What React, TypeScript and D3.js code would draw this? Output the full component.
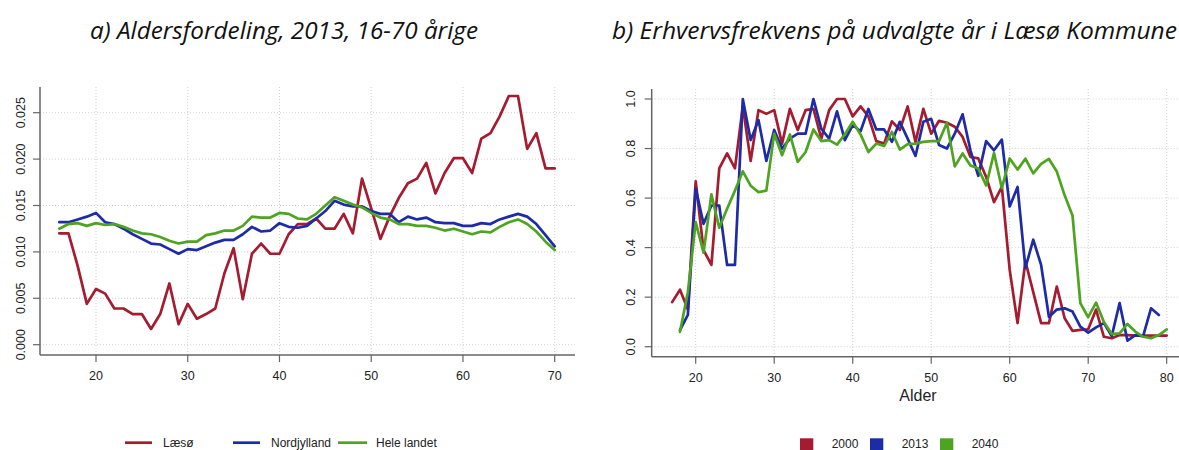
import React from "react";
import * as d3 from "d3";

// Panel a: age distribution 16-70, 2013
const agesA = d3.range(16, 71);
const laesoShare = [
  0.012, 0.012, 0.0085, 0.0044, 0.006, 0.0055, 0.0039, 0.0039, 0.0033, 0.0033,
  0.0017, 0.0033, 0.0066, 0.0022, 0.0044, 0.0028, 0.0033, 0.0039, 0.0077, 0.0104,
  0.0049, 0.0098, 0.0109, 0.0098, 0.0098, 0.0119, 0.013, 0.013, 0.0136, 0.0125,
  0.0125, 0.0141, 0.012, 0.0179, 0.0147, 0.0114, 0.0138, 0.0158, 0.0174, 0.0179,
  0.0196, 0.0163, 0.0185, 0.0201, 0.0201, 0.0185, 0.0222, 0.0228, 0.0246, 0.0268,
  0.0268, 0.0211, 0.0228, 0.019, 0.019,
];
const nordjyllandShare = [
  0.0132, 0.0132, 0.0135, 0.0138, 0.0142, 0.0132, 0.013, 0.0125, 0.0119, 0.0114,
  0.0109, 0.0108, 0.0103, 0.0098, 0.0103, 0.0102, 0.0106, 0.011, 0.0113, 0.0113,
  0.0119, 0.0127, 0.0122, 0.0123, 0.0131, 0.0127, 0.0126, 0.0128, 0.0136, 0.0144,
  0.0155, 0.0151, 0.0149, 0.0149, 0.0144, 0.0141, 0.0141, 0.0132, 0.0138, 0.0135,
  0.0137, 0.0132, 0.0131, 0.0131, 0.0128, 0.0128, 0.0131, 0.013, 0.0135, 0.0138,
  0.0141, 0.0138, 0.013, 0.0118, 0.0106,
];
const heleLandetShare = [
  0.0125, 0.013, 0.0131, 0.0128, 0.0131, 0.0129, 0.013, 0.0127, 0.0123, 0.012,
  0.0119, 0.0116, 0.0112, 0.0109, 0.0111, 0.0111, 0.0118, 0.012, 0.0123, 0.0123,
  0.0128, 0.0138, 0.0137, 0.0137, 0.0142, 0.0141, 0.0136, 0.0135, 0.0141, 0.015,
  0.0159, 0.0155, 0.0151, 0.0148, 0.0142, 0.0137, 0.0135, 0.013, 0.013, 0.0128,
  0.0128, 0.0126, 0.0123, 0.0125, 0.0122, 0.0119, 0.0122, 0.0121, 0.0127, 0.0132,
  0.0135, 0.013, 0.0122, 0.0111, 0.0102,
];
const yTicksA = [0, 0.005, 0.01, 0.015, 0.02, 0.025];
const xTicksA = [20, 30, 40, 50, 60, 70];
const seriesNamesA = ["Læsø", "Nordjylland", "Hele landet"];

// Panel b: employment rate by age, Læsø Kommune
const agesRate2000 = d3.range(17, 81);
const rate2000 = [
  0.18, 0.23, 0.15, 0.668, 0.39, 0.33, 0.72, 0.78, 0.72, 0.97,
  0.75, 0.955, 0.94, 0.955, 0.82, 0.96, 0.875, 0.955, 0.96, 0.84,
  0.955, 1.0, 1.0, 0.93, 0.97, 0.93, 0.83, 0.82, 0.91, 0.875,
  0.97, 0.827, 0.96, 0.86, 0.912, 0.904, 0.888, 0.847, 0.766, 0.76,
  0.685, 0.584, 0.645, 0.31, 0.095, 0.345, 0.22, 0.095, 0.095, 0.243,
  0.115, 0.064, 0.068, 0.07, 0.15, 0.04, 0.034, 0.047, 0.047, 0.045,
  0.045, 0.045, 0.045, 0.045,
];
const agesRate2013 = d3.range(18, 80);
const rate2013 = [
  0.067, 0.128, 0.638, 0.496, 0.57, 0.57, 0.33, 0.33, 1.0, 0.834,
  0.915, 0.75, 0.875, 0.8, 0.84, 0.86, 0.86, 1.0, 0.88, 0.84,
  0.95, 0.834, 0.895, 0.87, 0.96, 0.877, 0.877, 0.827, 0.908, 0.84,
  0.77, 0.908, 0.92, 0.814, 0.8, 0.86, 0.938, 0.793, 0.69, 0.83,
  0.793, 0.836, 0.566, 0.645, 0.318, 0.432, 0.33, 0.12, 0.15, 0.155,
  0.142, 0.081, 0.057, 0.078, 0.095, 0.043, 0.176, 0.024, 0.047, 0.043,
  0.155, 0.128,
];
const agesRate2040 = d3.range(18, 81);
const rate2040 = [
  0.06, 0.22, 0.503, 0.38, 0.615, 0.48, 0.557, 0.63, 0.708, 0.65,
  0.624, 0.63, 0.86, 0.773, 0.857, 0.746, 0.786, 0.877, 0.83, 0.834,
  0.816, 0.857, 0.908, 0.857, 0.786, 0.82, 0.81, 0.867, 0.796, 0.818,
  0.82, 0.827, 0.83, 0.83, 0.904, 0.728, 0.78, 0.732, 0.719, 0.651,
  0.782, 0.64, 0.76, 0.715, 0.759, 0.7, 0.738, 0.758, 0.707, 0.611,
  0.53, 0.176, 0.119, 0.178, 0.1, 0.051, 0.054, 0.092, 0.061, 0.04,
  0.034, 0.047, 0.07,
];
const yTicksB = [0, 0.2, 0.4, 0.6, 0.8, 1.0];
const xTicksB = [20, 30, 40, 50, 60, 70, 80];
const seriesNamesB = ["2000", "2013", "2040"];

const RED = "#a51b30";
const BLUE = "#1d2ca6";
const GREEN = "#4ea420";
const AXIS = "#666666";
const GRID = "#cfcfcf";
const TEXT = "#222222";
const FONT = "'Liberation Sans', Arial, sans-serif";
const TITLE_FONT = "'Open Sans', 'Noto Sans', sans-serif";

type Series = { xs: number[]; ys: number[]; color: string };

function Panel(props: {
  x: d3.ScaleLinear<number, number>;
  y: d3.ScaleLinear<number, number>;
  left: number;
  right: number;
  top: number;
  bottom: number;
  xTicks: number[];
  yTicks: number[];
  yFmt: (v: number) => string;
  series: Series[];
  yLabelX: number;
  xLabelY: number;
}) {
  const { x, y, left, right, top, bottom, xTicks, yTicks, yFmt, series, yLabelX, xLabelY } = props;
  return (
    <g>
      {yTicks.map((t) => (
        <line key={"gy" + t} x1={left} x2={right} y1={y(t)} y2={y(t)} stroke={GRID} strokeWidth={1} strokeDasharray="1 2" />
      ))}
      {xTicks.map((t) => (
        <line key={"gx" + t} x1={x(t)} x2={x(t)} y1={top} y2={bottom} stroke={GRID} strokeWidth={1} strokeDasharray="1 2" />
      ))}
      {series.map((s, i) => {
        const pts: [number, number][] = s.xs.map((a, j) => [x(a), y(s.ys[j])]);
        const path = d3.line()(pts) || "";
        return <path key={i} d={path} fill="none" stroke={s.color} strokeWidth={2.7} strokeLinejoin="round" strokeLinecap="round" />;
      })}
      <line x1={left} x2={left} y1={top} y2={bottom} stroke={AXIS} strokeWidth={1.5} />
      <line x1={left} x2={right} y1={bottom} y2={bottom} stroke={AXIS} strokeWidth={1.5} />
      {yTicks.map((t) => (
        <g key={"ty" + t}>
          <line x1={left - 7} x2={left} y1={y(t)} y2={y(t)} stroke={AXIS} strokeWidth={1.2} />
          <text
            transform={`translate(${yLabelX},${y(t)}) rotate(-90)`}
            textAnchor="middle"
            fontFamily={FONT}
            fontSize={12.5}
            fill={TEXT}
          >
            {yFmt(t)}
          </text>
        </g>
      ))}
      {xTicks.map((t) => (
        <g key={"tx" + t}>
          <line x1={x(t)} x2={x(t)} y1={bottom} y2={bottom + 7} stroke={AXIS} strokeWidth={1.2} />
          <text x={x(t)} y={xLabelY} textAnchor="middle" fontFamily={FONT} fontSize={12.5} fill={TEXT}>
            {t}
          </text>
        </g>
      ))}
    </g>
  );
}

export default function App() {
  const W = 1179;
  const H = 450;

  const xA = d3.scaleLinear().domain([20, 70]).range([96, 554.7]);
  const yA = d3.scaleLinear().domain([0, 0.025]).range([344.7, 112.7]);
  const xB = d3.scaleLinear().domain([20, 80]).range([695.7, 1166.7]);
  const yB = d3.scaleLinear().domain([0, 1]).range([346.7, 99]);

  const seriesA: Series[] = [
    { xs: agesA, ys: laesoShare, color: RED },
    { xs: agesA, ys: nordjyllandShare, color: BLUE },
    { xs: agesA, ys: heleLandetShare, color: GREEN },
  ];
  const seriesB: Series[] = [
    { xs: agesRate2000, ys: rate2000, color: RED },
    { xs: agesRate2013, ys: rate2013, color: BLUE },
    { xs: agesRate2040, ys: rate2040, color: GREEN },
  ];

  const legendA = [
    { name: seriesNamesA[0], color: RED, x: 125 },
    { name: seriesNamesA[1], color: BLUE, x: 233 },
    { name: seriesNamesA[2], color: GREEN, x: 338 },
  ];
  const legendB = [
    { name: seriesNamesB[0], color: RED, x: 800 },
    { name: seriesNamesB[1], color: BLUE, x: 870 },
    { name: seriesNamesB[2], color: GREEN, x: 940 },
  ];

  return (
    <svg
      width={W}
      height={H}
      viewBox={`0 0 ${W} ${H}`}
      style={{ position: "absolute", left: 0, top: 0, display: "block", background: "#ffffff" }}
    >
      <rect x={0} y={0} width={W} height={H} fill="#ffffff" />
      <text
        x={284}
        y={39}
        textAnchor="middle"
        fontFamily={TITLE_FONT}
        fontStyle="italic"
        fontSize={23}
        textLength={388}
        lengthAdjust="spacingAndGlyphs"
        fill="#111"
      >
        a) Aldersfordeling, 2013, 16-70 årige
      </text>
      <text
        x={894.5}
        y={39}
        textAnchor="middle"
        fontFamily={TITLE_FONT}
        fontStyle="italic"
        fontSize={23}
        textLength={565}
        lengthAdjust="spacingAndGlyphs"
        fill="#111"
      >
        b) Erhvervsfrekvens på udvalgte år i Læsø Kommune
      </text>

      <Panel
        x={xA}
        y={yA}
        left={40}
        right={575}
        top={87}
        bottom={355}
        xTicks={xTicksA}
        yTicks={yTicksA}
        yFmt={d3.format(".3f")}
        series={seriesA}
        yLabelX={25}
        xLabelY={380}
      />
      <Panel
        x={xB}
        y={yB}
        left={651.7}
        right={1186}
        top={89}
        bottom={356.7}
        xTicks={xTicksB}
        yTicks={yTicksB}
        yFmt={d3.format(".1f")}
        series={seriesB}
        yLabelX={635}
        xLabelY={381.5}
      />
      <text x={918} y={401} textAnchor="middle" fontFamily={FONT} fontSize={16} fill={TEXT}>
        Alder
      </text>

      {legendA.map((l) => (
        <g key={l.name}>
          <line x1={l.x} x2={l.x + (l.name === "Hele landet" ? 29 : 27)} y1={442.7} y2={442.7} stroke={l.color} strokeWidth={2.7} />
          <text x={l.x + 38} y={446.8} fontFamily={FONT} fontSize={12} fill={TEXT}>
            {l.name}
          </text>
        </g>
      ))}
      {legendB.map((l) => (
        <g key={l.name}>
          <rect x={l.x} y={438.3} width={13.3} height={12} fill={l.color} />
          <text x={l.x + 31.7} y={447.5} fontFamily={FONT} fontSize={12} fill={TEXT}>
            {l.name}
          </text>
        </g>
      ))}
    </svg>
  );
}
